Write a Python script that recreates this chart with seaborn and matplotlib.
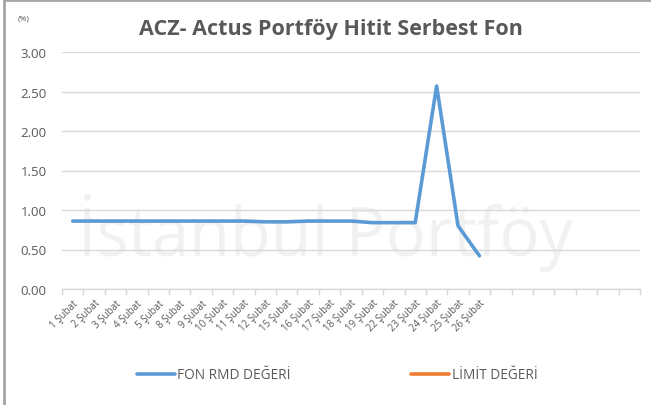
import numpy as np
import pandas as pd
import matplotlib
matplotlib.use("Agg")
import matplotlib.pyplot as plt
import seaborn as sns
from matplotlib.lines import Line2D

categories = ["1 Şubat", "2 Şubat", "3 Şubat", "4 Şubat", "5 Şubat", "8 Şubat",
              "9 Şubat", "10 Şubat", "11 Şubat", "12 Şubat", "15 Şubat", "16 Şubat",
              "17 Şubat", "18 Şubat", "19 Şubat", "22 Şubat", "23 Şubat", "24 Şubat",
              "25 Şubat", "26 Şubat"]
n_slots = 27
fon_rmd = [0.86, 0.86, 0.86, 0.86, 0.86, 0.86, 0.86, 0.86, 0.86, 0.85,
           0.85, 0.86, 0.86, 0.86, 0.84, 0.84, 0.84, 2.57, 0.80, 0.42]
limit = [np.nan] * len(categories)
yticks = [0.0, 0.5, 1.0, 1.5, 2.0, 2.5, 3.0]

sns.set_theme(style="white")
plt.rcParams['font.family'] = ['Open Sans', 'DejaVu Sans']

fig = plt.figure(figsize=(6.51, 4.06), dpi=100)
ax = fig.add_axes([62/651, 1-290/406, (640-62)/651, (290-53)/406])

df = pd.DataFrame({"x": np.arange(len(categories)), "y": fon_rmd})
blue = "#5B9BD5"
orange = "#ED7D31"
sns.lineplot(data=df, x="x", y="y", ax=ax, color=blue, linewidth=2.6, legend=False,
             zorder=5)
ax.plot(np.arange(len(categories)), limit, color=orange, linewidth=2.6, zorder=5)

# watermark (behind everything in the axes)
ax.text(0.455, 0.24, "İstanbul Portföy", transform=ax.transAxes, fontsize=48,
        color="#f1f1f1", ha="center", va="center", zorder=0)

ax.set_xlim(-0.5, n_slots - 0.5)
ax.set_ylim(0, 3.0)
ax.set_yticks(yticks)
ax.set_yticklabels([f"{v:.2f}" for v in yticks], fontsize=9.5, color="#595959")
ax.yaxis.grid(True, color="#d9d9d9", linewidth=1, zorder=1)
ax.set_axisbelow(True)
ax.tick_params(axis="y", length=0, pad=11)

ax.set_xticks(np.arange(len(categories)))
ax.set_xticklabels(categories, rotation=45, ha="right", rotation_mode="anchor",
                   fontsize=7, color="#595959")
ax.set_xticks(np.arange(n_slots + 1) - 0.5, minor=True)
ax.tick_params(axis="x", which="major", length=0, pad=6)
ax.tick_params(axis="x", which="minor", length=4, color="#d9d9d9", width=1, bottom=True)
for s in ["top", "right", "left"]:
    ax.spines[s].set_visible(False)
ax.spines["bottom"].set_color("#d9d9d9")
ax.spines["bottom"].set_linewidth(1)
ax.set_xlabel("")
ax.set_ylabel("")
ax.patch.set_alpha(0)

fig.text(331/651, 1-30/406, "ACZ- Actus Portföy Hitit Serbest Fon", fontsize=15.5,
         fontweight="bold", color="#595959", ha="center", va="center")
fig.text(24/651, 1-19/406, "(%)", fontsize=6, color="#595959", ha="center", va="center")

handles = [Line2D([], [], color=blue, linewidth=2.6),
           Line2D([], [], color=orange, linewidth=2.6)]
fig.legend(handles, ["FON RMD DEĞERİ", "LİMİT DEĞERİ"], loc="center",
           bbox_to_anchor=(337/651, 1-376/406), ncol=2, frameon=False,
           fontsize=9.8, labelcolor="#595959", handlelength=2.8, handletextpad=0.2,
           columnspacing=8.8)

# frame
fig.add_artist(Line2D([4/651, 4/651], [0, 1-1/406], color="#a6a6a6", linewidth=2,
                      transform=fig.transFigure))
fig.add_artist(Line2D([4/651, 1], [1-1/406, 1-1/406], color="#a6a6a6", linewidth=2,
                      transform=fig.transFigure))

fig.savefig("out.png", dpi=100)
